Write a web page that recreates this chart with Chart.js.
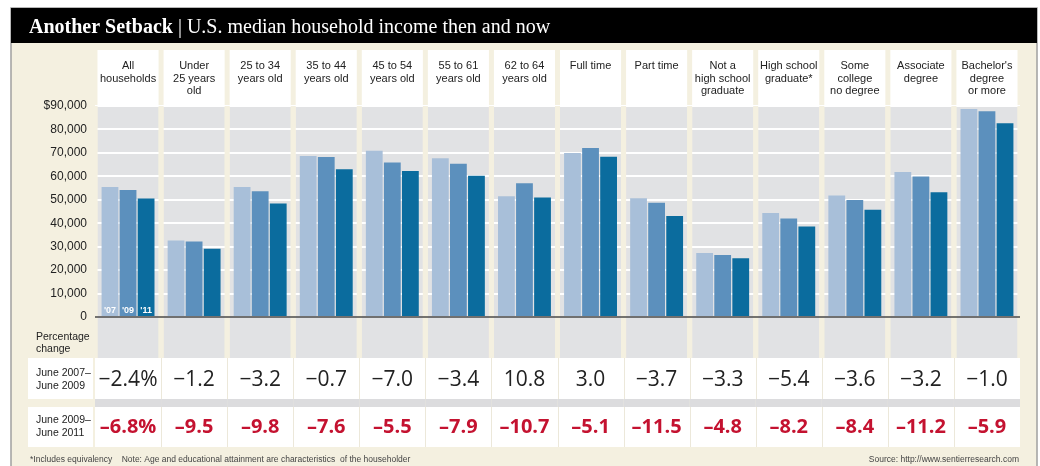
<!DOCTYPE html>
<html lang="en">
<head>
<meta charset="utf-8">
<title>Another Setback</title>
<script src="https://cdn.jsdelivr.net/npm/chart.js"></script>
<style>
  html, body { margin: 0; padding: 0; background: #fff; }
  #wrap { width: 1040px; height: 466px; }
</style>
</head>
<body>
<div id="wrap"><canvas id="incomeChart" width="1040" height="466"></canvas></div>

<script>
// categories (multi-line header labels)
const categories = [
  ['All', 'households'], ['Under', '25 years', 'old'], ['25 to 34', 'years old'],
  ['35 to 44', 'years old'], ['45 to 54', 'years old'], ['55 to 61', 'years old'],
  ['62 to 64', 'years old'], ['Full time'], ['Part time'],
  ['Not a', 'high school', 'graduate'], ['High school', 'graduate*'],
  ['Some', 'college', 'no degree'], ['Associate', 'degree'], ["Bachelor's", 'degree', 'or more']
];
const seriesNames = ["'07", "'09", "'11"];

// median household income, June of each year
const income2007 = [55500, 32600, 55400, 68700, 70900, 67700, 51500, 70000, 50600, 27300, 44400, 51800, 61900, 88700];
const income2009 = [54200, 32200, 53600, 68200, 65900, 65400, 57100, 72100, 48700, 26400, 42000, 49900, 59900, 87800];
const income2011 = [50500, 29100, 48400, 63000, 62300, 60200, 51000, 68400, 43100, 25100, 38600, 45700, 53200, 82600];

// percentage change rows
const change0709 = [-2.4, -1.2, -3.2, -0.7, -7.0, -3.4, 10.8, 3.0, -3.7, -3.3, -5.4, -3.6, -3.2, -1.0];
const change0911 = [-6.8, -9.5, -9.8, -7.6, -5.5, -7.9, -10.7, -5.1, -11.5, -4.8, -8.2, -8.4, -11.2, -5.9];

const yTickLabels = ['0', '10,000', '20,000', '30,000', '40,000', '50,000', '60,000', '70,000', '80,000', '$90,000'];

const BEIGE = '#f4f0e0';
const PLOT_GREY = '#e1e2e4';
const STRIP_GREY = '#dcdcde';
const SANS = '"Liberation Sans", Arial, sans-serif';

const fmtPct = (v, i, minus) => {
    let s = Math.abs(v).toFixed(1);
    if (v < 0) s = minus + s;
    return i === 0 ? s + '%' : s;
};

const panelPlugin = {
    id: 'panel',
    beforeDraw(chart) {
        const { ctx, chartArea: a, width, height } = chart;
        const n = categories.length;
        const colW = (a.right - a.left) / n;
        ctx.save();
        ctx.fillStyle = '#fff';
        ctx.fillRect(0, 0, width, height);
        // frame + title bar
        ctx.fillStyle = BEIGE;
        ctx.fillRect(11, 8, 1026, height - 8);
        ctx.strokeStyle = '#a0a0a0';
        ctx.lineWidth = 1.5;
        ctx.strokeRect(11, 8, 1026, height + 4);
        ctx.fillStyle = '#000';
        ctx.fillRect(11, 8, 1026, 35);

        for (let i = 0; i < n; i++) {
            const x0 = a.left + i * colW;
            ctx.fillStyle = '#fff';
            ctx.fillRect(x0 + 2.5, 50, colW - 5, a.top - 50);
            ctx.fillStyle = PLOT_GREY;
            ctx.fillRect(x0 + 2.5, a.top, colW - 5, 358 - a.top);
            ctx.fillStyle = STRIP_GREY;
            ctx.fillRect(x0, 399, colW, 8);
        }
        // white table rows
        ctx.fillStyle = '#fff';
        ctx.fillRect(a.left, 358, a.right - a.left, 41);
        ctx.fillRect(a.left, 407, a.right - a.left, 40);
        ctx.fillRect(28, 358, 65, 41);
        ctx.fillRect(28, 407, 65, 40);
        ctx.strokeStyle = '#ece8da';
        ctx.lineWidth = 1;
        for (let i = 1; i < n; i++) {
            const x = Math.round(a.left + i * colW) + 0.5;
            ctx.beginPath();
            ctx.moveTo(x, 358); ctx.lineTo(x, 399);
            ctx.moveTo(x, 407); ctx.lineTo(x, 447);
            ctx.stroke();
        }
        ctx.restore();
    },
    beforeDatasetsDraw(chart) {
        const { ctx, chartArea: a } = chart;
        const n = categories.length;
        const colW = (a.right - a.left) / n;
        ctx.save();
        ctx.fillStyle = BEIGE;
        for (let i = 0; i <= n; i++) {
            const x = a.left + i * colW;
            ctx.fillRect(x - 2.5, a.top, 5, 358 - a.top);
        }
        // zero line
        const y0 = chart.scales.y.getPixelForValue(0);
        ctx.strokeStyle = '#4a4a4a';
        ctx.lineWidth = 1.5;
        ctx.beginPath();
        ctx.moveTo(a.left, y0);
        ctx.lineTo(a.right, y0);
        ctx.stroke();
        ctx.restore();
    },
    afterDraw(chart) {
        const { ctx, chartArea: a } = chart;
        const n = categories.length;
        const colW = (a.right - a.left) / n;
        ctx.save();

        // title
        ctx.fillStyle = '#fff';
        ctx.textBaseline = 'alphabetic';
        ctx.textAlign = 'left';
        ctx.font = 'bold 20px "Liberation Serif", "DejaVu Serif", serif';
        ctx.fillText('Another Setback', 29, 33);
        const tw = ctx.measureText('Another Setback').width;
        ctx.font = '20px "Liberation Serif", "DejaVu Serif", serif';
        ctx.fillText(' | U.S. median household income then and now', 29 + tw, 33);

        // column headers
        ctx.fillStyle = '#222';
        ctx.textAlign = 'center';
        ctx.textBaseline = 'middle';
        ctx.font = '11px ' + SANS;
        categories.forEach((lines, i) => {
            const cx = a.left + (i + 0.5) * colW;
            lines.forEach((t, k) => ctx.fillText(t, cx, 66 + k * 12.5));
        });

        // series tags inside first group
        ctx.fillStyle = '#fff';
        ctx.font = 'bold 9px ' + SANS;
        seriesNames.forEach((name, d) => {
            const bar = chart.getDatasetMeta(d).data[0];
            ctx.fillText(name, bar.x, 311);
        });

        // row labels
        ctx.textAlign = 'left';
        ctx.fillStyle = '#222';
        ctx.font = '10.5px ' + SANS;
        ctx.fillText('Percentage', 36, 337);
        ctx.fillText('change', 36, 349);
        ctx.fillText('June 2007\u2013', 36, 373);
        ctx.fillText('June 2009', 36, 386);
        ctx.fillText('June 2009\u2013', 36, 420);
        ctx.fillText('June 2011', 36, 433);

        // percentage values
        ctx.textAlign = 'center';
        ctx.font = '21px "Open Sans", sans-serif';
        ctx.fillStyle = '#222';
        change0709.forEach((v, i) => {
            ctx.fillText(fmtPct(v, i, '\u2212'), a.left + (i + 0.5) * colW, 380);
        });
        ctx.font = 'bold 20px "Open Sans", sans-serif';
        ctx.fillStyle = '#c41230';
        change0911.forEach((v, i) => {
            ctx.fillText(fmtPct(v, i, '\u2013'), a.left + (i + 0.5) * colW, 427);
        });

        // footer
        ctx.fillStyle = '#444';
        ctx.font = '8.5px ' + SANS;
        ctx.textAlign = 'left';
        ctx.fillText('*Includes equivalency    Note: Age and educational attainment are characteristics  of the householder', 30, 460);
        ctx.textAlign = 'right';
        ctx.fillText('Source: http://www.sentierresearch.com', 1019, 460);
        ctx.restore();
    }
};

document.addEventListener('DOMContentLoaded', () => {
    Chart.defaults.font.family = SANS;
    const ctx = document.getElementById('incomeChart').getContext('2d');

    new Chart(ctx, {
        type: 'bar',
        data: {
            labels: categories,
            datasets: [
                { label: seriesNames[0], data: income2007, backgroundColor: '#a8bfd9' },
                { label: seriesNames[1], data: income2009, backgroundColor: '#5c90bd' },
                { label: seriesNames[2], data: income2011, backgroundColor: '#0b6c9e' }
            ]
        },
        options: {
            responsive: false,
            animation: false,
            events: [],
            devicePixelRatio: 1,
            datasets: {
                bar: { categoryPercentage: 0.82, barPercentage: 0.93, borderWidth: 0 }
            },
            layout: { padding: { left: 11, right: 20, top: 106, bottom: 149 } },
            scales: {
                x: { display: false },
                y: {
                    min: 0,
                    max: 90000,
                    ticks: {
                        stepSize: 10000,
                        padding: 8,
                        color: '#222',
                        font: { size: 12 },
                        callback: (v, i) => yTickLabels[i]
                    },
                    grid: {
                        drawTicks: false,
                        lineWidth: 2,
                        color: (c) => (c.tick && c.tick.value === 0) ? 'rgba(0,0,0,0)' : '#ffffff'
                    },
                    border: { display: false },
                    afterFit: (scale) => { scale.width = 84; }
                }
            },
            plugins: {
                legend: { display: false },
                tooltip: { enabled: false }
            }
        },
        plugins: [panelPlugin]
    });
});
</script>
</body>
</html>
